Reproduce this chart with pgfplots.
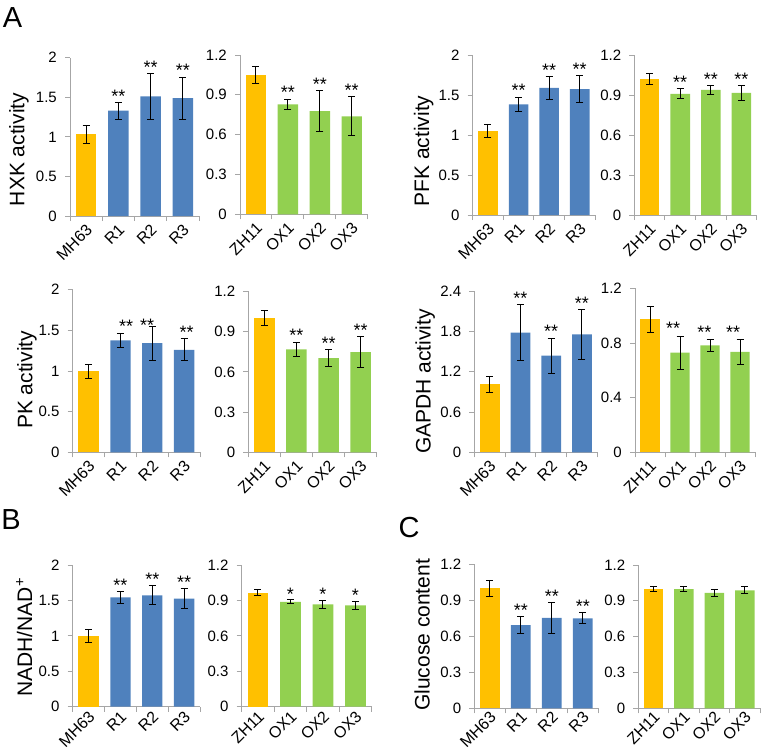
\documentclass[border=0pt]{standalone}
\usepackage{pgfplots}
\pgfplotsset{compat=1.18}
\usepackage{fontspec}
\setmainfont{Liberation Sans}
\definecolor{cOrange}{HTML}{FFC000}
\definecolor{cBlue}{HTML}{4F81BD}
\definecolor{cGreen}{HTML}{92D050}
\definecolor{axgray}{HTML}{A6A6A6}
\pgfplotsset{
 panel/.style={
  scale only axis, anchor=south west, clip=false,
  axis x line*=bottom, axis y line*=left,
  axis line style={axgray, line width=0.9pt},
  xmin=-0.5, xmax=3.5, ymin=0,
  xtick={0,1,2,3},
  minor xtick={-0.5,0.5,1.5,2.5,3.5},
  tick align=outside, major tick length=0pt, minor tick length=5pt,
  tick style={axgray, line width=0.9pt},
  /pgf/number format/assume math mode=true,
  yticklabel style={font=\fontsize{15}{18}\selectfont, text=black, inner sep=0pt, xshift=-13pt},
  xticklabel style={font=\fontsize{16}{19}\selectfont, text=black, inner sep=0pt, text height=0.72em, text depth=0pt},
  every axis y label/.style={font=\fontsize{21}{25}\selectfont, rotate=90, anchor=center},
 },
 xtl/.style={xticklabel style={xshift=2pt, yshift=#1, rotate=45, anchor=north east}},
 lpan/.style={panel, xticklabels={MH63,R1,R2,R3}},
 rpan/.style={panel, xticklabels={ZH11,OX1,OX2,OX3}},
 s2/.style={ymax=2, ytick={0,0.5,1,1.5,2}, minor ytick={0,0.5,1,1.5,2}},
 s12/.style={ymax=1.2, ytick={0,0.3,0.6,0.9,1.2}, minor ytick={0,0.3,0.6,0.9,1.2}},
 ebar/.style={error bars/.cd, y dir=both, y explicit,
   error bar style={black, line width=1pt},
   error mark options={rotate=90, black, mark size=3.5pt, line width=1pt}},
 ctrl/.style={ybar, bar width=0.64, fill=cOrange, draw=none, ebar},
 blue/.style={ybar, bar width=0.64, fill=cBlue, draw=none, ebar},
 green/.style={ybar, bar width=0.64, fill=cGreen, draw=none, ebar},
 stars/.style={draw=none, mark=none, nodes near coords, point meta=explicit symbolic,
   every node near coord/.append style={anchor=south, inner sep=0pt, font=\fontsize{18}{20}\selectfont, text=black}},
}
\begin{document}
\begin{tikzpicture}
\useasboundingbox (0,0) rectangle (778pt,-754pt);
\node[inner sep=0pt, font=\fontsize{29}{32}\selectfont] at (12.5pt,-17.5pt) {A};
\node[inner sep=0pt, font=\fontsize{29}{32}\selectfont] at (11pt,-520pt) {B};
\node[inner sep=0pt, font=\fontsize{29}{32}\selectfont] at (409pt,-527.5pt) {C};

% ---- HXK
\begin{axis}[lpan, s2, xtl=-10pt, at={(70pt,-216pt)}, width=129pt, height=158.3pt,
  ylabel={HXK activity}, ylabel style={at={(axis description cs:-0.395,0.42)}}]
\addplot[ctrl] coordinates {(0,1.03) +- (0,0.11)};
\addplot[blue] coordinates {(1,1.33) +- (0,0.105) (2,1.51) +- (0,0.29) (3,1.49) +- (0,0.265)};
\addplot[stars] coordinates {(1,1.435)[**] (2,1.80)[**] (3,1.755)[**]};
\end{axis}
\begin{axis}[rpan, s12, xtl=-10pt, at={(240pt,-214.3pt)}, width=127.7pt, height=159.3pt]
\addplot[ctrl] coordinates {(0,1.052) +- (0,0.063)};
\addplot[green] coordinates {(1,0.828) +- (0,0.04) (2,0.778) +- (0,0.155) (3,0.738) +- (0,0.148)};
\addplot[stars] coordinates {(1,0.868)[**] (2,0.933)[**] (3,0.886)[**]};
\end{axis}
% ---- PFK
\begin{axis}[lpan, s2, xtl=-10pt, at={(472.7pt,-215pt)}, width=122.3pt, height=160pt,
  ylabel={PFK activity}, ylabel style={at={(axis description cs:-0.40,0.40)}}]
\addplot[ctrl] coordinates {(0,1.05) +- (0,0.08)};
\addplot[blue] coordinates {(1,1.383) +- (0,0.09) (2,1.59) +- (0,0.145) (3,1.575) +- (0,0.165)};
\addplot[stars] coordinates {(1,1.473)[**] (2,1.735)[**] (3,1.74)[**]};
\end{axis}
\begin{axis}[rpan, s12, xtl=-10pt, at={(634.3pt,-215pt)}, width=122.4pt, height=160pt]
\addplot[ctrl] coordinates {(0,1.02) +- (0,0.038)};
\addplot[green] coordinates {(1,0.908) +- (0,0.037) (2,0.9375) +- (0,0.035) (3,0.915) +- (0,0.055)};
\addplot[stars] coordinates {(1,0.945)[**] (2,0.9725)[**] (3,0.97)[**]};
\end{axis}
% ---- PK
\begin{axis}[lpan, s2, xtl=-10pt, at={(72.7pt,-452.3pt)}, width=127.3pt, height=162.6pt,
  ylabel={PK activity}, ylabel style={at={(axis description cs:-0.36,0.445)}}]
\addplot[ctrl] coordinates {(0,0.994) +- (0,0.09)};
\addplot[blue] coordinates {(1,1.376) +- (0,0.082) (2,1.343) +- (0,0.21) (3,1.261) +- (0,0.136)};
\addplot[stars] coordinates {(1.18,1.467)[**] (1.84,1.48)[**] (3.08,1.40)[**]};
\end{axis}
\begin{axis}[rpan, s12, xtl=-10pt, at={(248.3pt,-452.3pt)}, width=128.4pt, height=160.9pt]
\addplot[ctrl] coordinates {(0,1.0) +- (0,0.057)};
\addplot[green] coordinates {(1,0.768) +- (0,0.053) (2,0.703) +- (0,0.065) (3,0.748) +- (0,0.112)};
\addplot[stars] coordinates {(1,0.825)[**] (2,0.768)[**] (3,0.86)[**]};
\end{axis}
% ---- GAPDH
\begin{axis}[lpan, xtl=-10pt, at={(474.3pt,-452.3pt)}, width=123pt, height=161.3pt,
  ymax=2.4, ytick={0,0.6,1.2,1.8,2.4}, minor ytick={0,0.6,1.2,1.8,2.4},
  ylabel={GAPDH activity}, ylabel style={at={(axis description cs:-0.40,0.44)}}]
\addplot[ctrl] coordinates {(0,1.01) +- (0,0.123)};
\addplot[blue] coordinates {(1,1.78) +- (0,0.415) (2,1.438) +- (0,0.26) (3,1.755) +- (0,0.37)};
\addplot[stars] coordinates {(1,2.195)[**] (2,1.698)[**] (3,2.125)[**]};
\end{axis}
\begin{axis}[rpan, xtl=-10pt, at={(635pt,-452.3pt)}, width=120pt, height=164pt,
  ymax=1.2, ytick={0,0.4,0.8,1.2}, minor ytick={0,0.4,0.8,1.2}]
\addplot[ctrl] coordinates {(0,0.973) +- (0,0.096)};
\addplot[green] coordinates {(1,0.729) +- (0,0.122) (2,0.783) +- (0,0.045) (3,0.734) +- (0,0.092)};
\addplot[stars] coordinates {(0.77,0.86)[**] (1.81,0.83)[**] (2.77,0.83)[**]};
\end{axis}
% ---- NADH/NAD+
\begin{axis}[lpan, s2, xtl=-6pt, at={(72.7pt,-706.7pt)}, width=127.3pt, height=141.7pt,
  ylabel={NADH/NAD\textsuperscript{+}}, ylabel style={at={(axis description cs:-0.38,0.49)}}]
\addplot[ctrl] coordinates {(0,0.998) +- (0,0.09)};
\addplot[blue] coordinates {(1,1.544) +- (0,0.085) (2,1.572) +- (0,0.132) (3,1.525) +- (0,0.141)};
\addplot[stars] coordinates {(1,1.629)[**] (2,1.704)[**] (3,1.666)[**]};
\end{axis}
\begin{axis}[rpan, s12, xtl=-6pt, at={(241.7pt,-706.7pt)}, width=130pt, height=141.7pt]
\addplot[ctrl] coordinates {(0,0.966) +- (0,0.028)};
\addplot[green] coordinates {(1,0.887) +- (0,0.017) (2,0.867) +- (0,0.033) (3,0.858) +- (0,0.034)};
\addplot[stars] coordinates {(1,0.90)[*] (2,0.90)[*] (3,0.892)[*]};
\end{axis}
% ---- Glucose
\begin{axis}[lpan, s12, xtl=-5pt, at={(474.3pt,-708.3pt)}, width=124pt, height=144pt,
  ylabel={Glucose content}, ylabel style={at={(axis description cs:-0.42,0.51)}}]
\addplot[ctrl] coordinates {(0,1.0) +- (0,0.066)};
\addplot[blue] coordinates {(1,0.694) +- (0,0.07) (2,0.753) +- (0,0.127) (3,0.75) +- (0,0.047)};
\addplot[stars] coordinates {(1,0.764)[**] (2,0.88)[**] (3,0.797)[**]};
\end{axis}
\begin{axis}[rpan, s12, xtl=-5pt, at={(638.3pt,-708.3pt)}, width=121.7pt, height=143.3pt]
\addplot[ctrl] coordinates {(0,0.999) +- (0,0.024)};
\addplot[green] coordinates {(1,0.999) +- (0,0.021) (2,0.966) +- (0,0.027) (3,0.988) +- (0,0.028)};
\end{axis}
\end{tikzpicture}
\end{document}
